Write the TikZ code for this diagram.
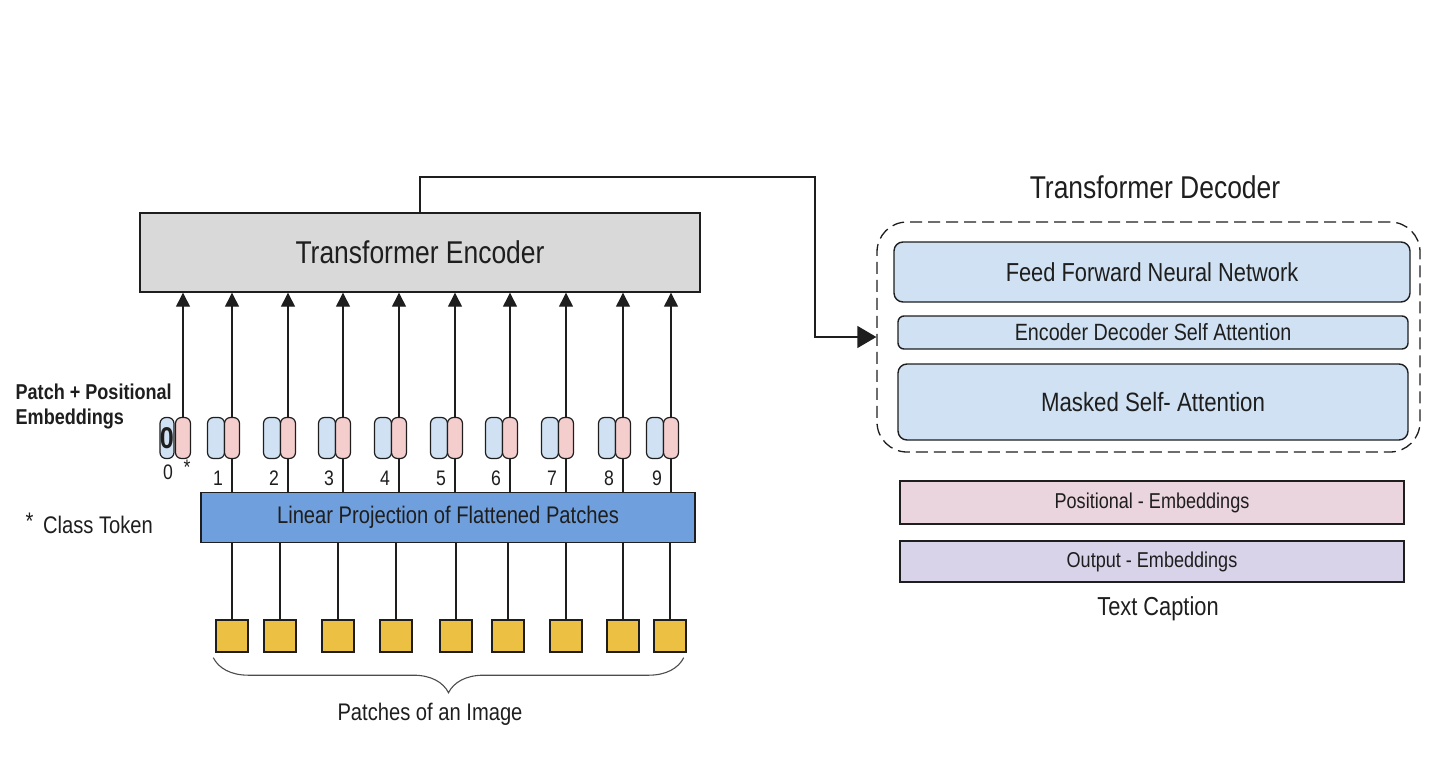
\documentclass[tikz,border=0pt]{standalone}
\usepackage{fontspec}
\setmainfont{Liberation Sans}[FakeStretch=0.84]
\usetikzlibrary{arrows.meta,decorations.pathreplacing}

\definecolor{encfill}{RGB}{217,217,217}
\definecolor{linfill}{RGB}{111,159,220}
\definecolor{layfill}{RGB}{207,225,242}
\definecolor{pinkfill}{RGB}{244,205,205}
\definecolor{patchfill}{RGB}{236,192,66}
\definecolor{posfill}{RGB}{234,212,221}
\definecolor{outfill}{RGB}{217,211,233}
\definecolor{ink}{RGB}{30,30,30}

\begin{document}
\begin{tikzpicture}
  [x=1pt,y=-1pt,line width=1.3pt,draw=ink,
   every node/.style={text=ink,inner sep=0pt},
   box/.style={draw=ink,line width=1.4pt},
   layer/.style={draw=ink,fill=layfill,rounded corners=9pt,line width=1.4pt},
   capsule/.style={draw=ink,rounded corners=6pt,minimum height=41pt,line width=1.2pt},
   patch/.style={draw=ink,fill=patchfill,minimum size=32pt,line width=1.4pt},
   up/.style={-{Triangle[length=14pt,width=14pt]}}]
  \useasboundingbox (0,0) rectangle (1440,768);

  % encoder side
  \node[box,fill=encfill,minimum width=560pt,minimum height=79pt,
        font=\fontsize{31.5}{36}\selectfont] (enc) at (420,252.5) {Transformer Encoder};
  \node[box,fill=linfill,minimum width=494pt,minimum height=50pt,
        font=\fontsize{24}{28}\selectfont] (lin) at (448,517.5) {Linear Projection of Flattened Patches};

  \node[capsule,fill=layfill,minimum width=14pt,font=\bfseries\fontsize{30}{30}\selectfont] (te0) at (167,438) {0};
  \foreach \i/\x in {1/232,2/288,3/343,4/399,5/455,6/510,7/566,8/623,9/671}
    \node[capsule,fill=layfill,minimum width=17pt] (te\i) at (\x-16,438) {};
  \foreach \i/\x in {0/183,1/232,2/288,3/343,4/399,5/455,6/510,7/566,8/623,9/671} {
    \node[capsule,fill=pinkfill,minimum width=15pt] (pe\i) at (\x,438) {};
    \draw[up] (pe\i.north) -- (pe\i.north |- enc.south);
  }

  % token numbers
  \node[font=\fontsize{21}{21}\selectfont] (d0) at (168,472) {0};
  \node[font=\fontsize{21}{21}\selectfont] (cls) at (187,467) {*};
  \foreach \i/\x in {1/232,2/288,3/343,4/399,5/455,6/510,7/566,8/623,9/671} {
    \node[font=\fontsize{21}{21}\selectfont] (d\i) at (\x-14,478) {\i};
    \draw (pe\i.south) -- (pe\i.south |- lin.north);
  }

  % patches
  \foreach \i/\x in {1/232,2/280,3/338,4/396,5/456,6/508,7/566,8/623,9/670} {
    \node[patch] (pa\i) at (\x,636) {};
    \draw (pa\i.north) -- (pa\i.north |- lin.south);
  }
  \draw[decorate,decoration={brace,mirror,amplitude=35pt},line width=1.1pt,draw=black!70]
    ([xshift=-2pt,yshift=-5pt]pa1.south west) -- ([xshift=-3pt,yshift=-5pt]pa9.south east);
  \node[font=\fontsize{24}{28}\selectfont] (pimg) at (430,714) {Patches of an Image};

  \node[anchor=west,align=left,font=\bfseries\fontsize{21.5}{25}\selectfont] (lbl) at (15,406)
    {Patch + Positional\\Embeddings};
  \node[anchor=west,font=\fontsize{24}{28}\selectfont] (ctok) at (25,523) {\raisebox{4pt}{*}\, Class Token};

  % decoder side
  \node[font=\fontsize{31.5}{36}\selectfont] (dtitle) at (1155,187) {Transformer Decoder};
  \node[draw=ink,dashed,dash pattern=on 12pt off 6pt,rounded corners=30pt,
        minimum width=543pt,minimum height=230pt] (dec) at (1148.5,337) {};
  \node[layer,minimum width=516pt,minimum height=60pt,font=\fontsize{26}{30}\selectfont]
    (ffn) at (1152,272) {Feed Forward Neural Network};
  \node[layer,rounded corners=6pt,minimum width=510pt,minimum height=33pt,font=\fontsize{23.5}{26}\selectfont]
    (eda) at (1153,332.5) {Encoder Decoder Self Attention};
  \node[layer,minimum width=510pt,minimum height=76pt,font=\fontsize{26.5}{30}\selectfont]
    (msa) at (1153,402) {Masked Self- Attention};
  \node[box,fill=posfill,minimum width=504pt,minimum height=43pt,font=\fontsize{21.5}{24}\selectfont]
    (pos) at (1152,502.5) {Positional - Embeddings};
  \node[box,fill=outfill,minimum width=504pt,minimum height=41pt,font=\fontsize{21.5}{24}\selectfont]
    (out) at (1152,561.5) {Output - Embeddings};
  \node[font=\fontsize{26}{30}\selectfont] (cap) at (1158,609) {Text Caption};

  \coordinate (turn) at (815,177);
  \draw[-{Triangle[length=19pt,width=22pt]}] (enc.north) |- (turn) |- (dec.west);
\end{tikzpicture}
\end{document}
